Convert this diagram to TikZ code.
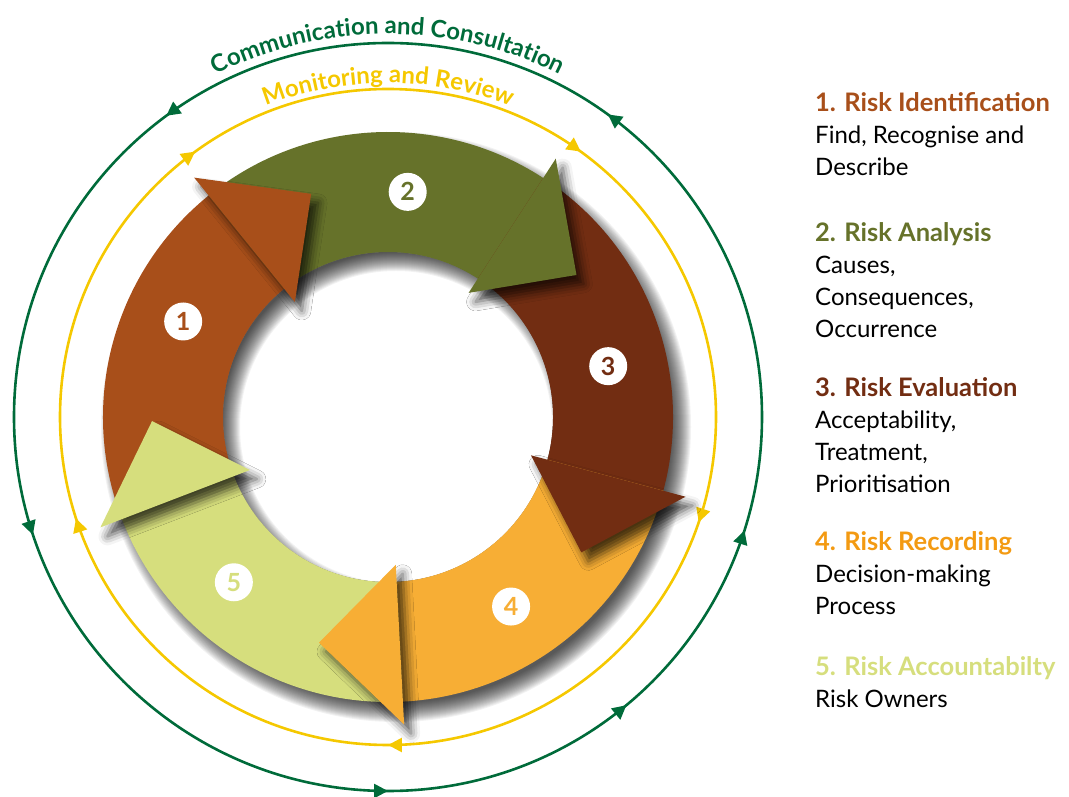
\documentclass[tikz,border=0pt]{standalone}
\usepackage{fontspec}
\setmainfont{Lato}
\usetikzlibrary{arrows.meta, positioning, calc, decorations.text, decorations.markings, shadows.blur}

\definecolor{riskone}{HTML}{A84F1A}
\definecolor{risktwo}{HTML}{66722A}
\definecolor{riskthree}{HTML}{722D12}
\definecolor{riskfour}{HTML}{F7AE35}
\definecolor{riskfourtext}{HTML}{F39A12}
\definecolor{riskfive}{HTML}{D6DE7D}
\definecolor{commgreen}{HTML}{006B3A}
\definecolor{monyellow}{HTML}{F5C800}

\newcommand{\ringfont}{\fontsize{24}{28}\selectfont\bfseries}
\newcommand{\legendhead}{\fontsize{25.5}{32}\selectfont\bfseries}

\begin{document}
\begin{tikzpicture}[x=1pt, y=1pt,
        ring/.style={line width=2.6pt},
        head/.style={blur shadow={shadow xshift=7pt, shadow yshift=-9pt, shadow blur radius=9pt, shadow opacity=70}},
        num/.style={circle, fill=white, minimum size=38pt, inner sep=0pt, font=\fontsize{25}{25}\selectfont\bfseries},
        legend/.style={anchor=north west, align=left, inner sep=0pt, font=\fontsize{24}{32}\selectfont}]

        \useasboundingbox (0,0) rectangle (1069,796);
        \coordinate (c) at (388,379);

        \begin{scope}[shift={(c)}]
        % Communication and Consultation
        \draw [ring, commgreen, postaction={decorate, decoration={markings,
                mark=at position 0.150 with {\arrow{Triangle[length=14pt, width=14pt]}},
                mark=at position 0.351 with {\arrow{Triangle[length=14pt, width=14pt]}},
                mark=at position 0.551 with {\arrow{Triangle[length=14pt, width=14pt]}},
                mark=at position 0.750 with {\arrow{Triangle[length=14pt, width=14pt]}},
                mark=at position 0.860 with {\arrow{Triangle[length=14pt, width=14pt]}},
                mark=at position 0.951 with {\arrow{Triangle[length=14pt, width=14pt]}}}}]
            (0:374) arc[start angle=0, end angle=360, radius=374pt];
        \path [decorate, decoration={text along path, text align=center,
                text={|\ringfont\color{commgreen}|Communication and Consultation}}]
            (140:383) arc[start angle=140, end angle=40, radius=383pt];

        % Monitoring and Review
        \draw [ring, monyellow, postaction={decorate, decoration={markings,
                mark=at position 0.052 with {\arrow{Triangle[length=14pt, width=14pt]}},
                mark=at position 0.250 with {\arrow{Triangle[length=14pt, width=14pt]}},
                mark=at position 0.450 with {\arrow{Triangle[length=14pt, width=14pt]}},
                mark=at position 0.650 with {\arrow{Triangle[length=14pt, width=14pt]}},
                mark=at position 0.850 with {\arrow{Triangle[length=14pt, width=14pt]}}}}]
            (0:328) arc[start angle=0, end angle=-360, radius=328pt];
        \path [decorate, decoration={text along path, text align=center,
                text={|\ringfont\color{monyellow}|Monitoring and Review}}]
            (135:334) arc[start angle=135, end angle=45, radius=334pt];

        % Shadow of the wheel
        \foreach \j in {0,...,19}
            \fill [black, opacity=0.05] (8,-10) circle[radius={295pt-1pt*\j}];
        \fill [white] (0,0) circle[radius=165pt];
        \begin{scope}
            \clip (0,0) circle[radius=165pt];
            \foreach \j in {0,...,19}
                \fill [black, opacity=0.05, even odd rule] (8,-10) circle[radius=420pt] (8,-10) circle[radius={156pt+1pt*\j}];
        \end{scope}

        % Arrow bodies
        \fill [riskone] (201:285) arc[start angle=201, end angle=128, radius=285pt] -- (128:165) arc[start angle=128, end angle=201, radius=165pt] -- cycle;
        \fill [risktwo] (129:285) arc[start angle=129, end angle=56, radius=285pt] -- (56:165) arc[start angle=56, end angle=129, radius=165pt] -- cycle;
        \fill [riskthree] (57:285) arc[start angle=57, end angle=-16, radius=285pt] -- (-16:165) arc[start angle=-16, end angle=57, radius=165pt] -- cycle;
        \fill [riskfour] (-15:285) arc[start angle=-15, end angle=-88, radius=285pt] -- (-88:165) arc[start angle=-88, end angle=-15, radius=165pt] -- cycle;
        \fill [riskfive] (-87:285) arc[start angle=-87, end angle=-160, radius=285pt] -- (-160:165) arc[start angle=-160, end angle=-87, radius=165pt] -- cycle;

        % Arrow heads
        \fill [riskone, head] (129:148) -- (129:308) -- (109:236) -- cycle;
        \fill [risktwo, head] (57:148) -- (57:308) -- (37:236) -- cycle;
        \fill [riskthree, head] (-15:148) -- (-15:308) -- (-35:236) -- cycle;
        \fill [riskfour, head] (-87:148) -- (-87:308) -- (-107:236) -- cycle;
        \fill [riskfive, head] (201:148) -- (201:308) -- (181:236) -- cycle;

        % Step numbers
        \node [num, text=riskone] (one) at (155:226) {1};
        \node [num, text=risktwo] (two) at (85:226) {2};
        \node [num, text=riskthree] (three) at (13:226) {3};
        \node [num, text=riskfour] (four) at (-57:226) {4};
        \node [num, text=riskfive] (five) at (-133:226) {5};
        \end{scope}

        % Legend
        \node [legend] (ident) at (815,704) {{\legendhead\color{riskone}1. Risk Identification}\\Find, Recognise and\\Describe};
        \node [legend] (anal) at (815,574) {{\legendhead\color{risktwo}2. Risk Analysis}\\Causes,\\Consequences,\\Occurrence};
        \node [legend] (eval) at (815,419) {{\legendhead\color{riskthree}3. Risk Evaluation}\\Acceptability,\\Treatment,\\Prioritisation};
        \node [legend] (recd) at (815,265) {{\legendhead\color{riskfourtext}4. Risk Recording}\\Decision-making\\Process};
        \node [legend] (acct) at (815,140) {{\legendhead\color{riskfive}5. Risk Accountabilty}\\Risk Owners};

    \end{tikzpicture}
\end{document}
